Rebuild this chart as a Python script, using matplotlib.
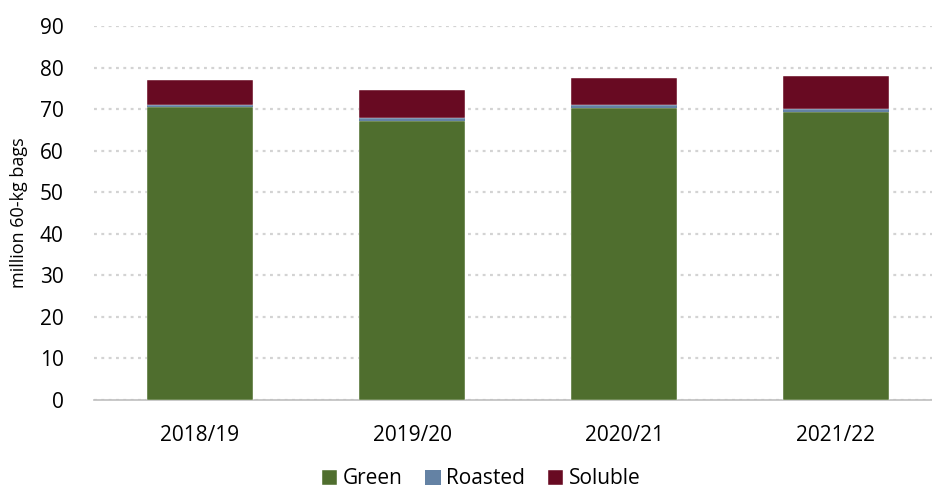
import numpy as np
import matplotlib
matplotlib.use("Agg")
import matplotlib.pyplot as plt

# dados (milhoes de sacas de 60 kg)
anos = ["2018/19", "2019/20", "2020/21", "2021/22"]
green = [70.4, 67.2, 70.3, 69.4]
roasted = [0.6, 0.6, 0.6, 0.6]
soluble = [6.1, 6.8, 6.7, 8.0]

cor_green = "#4F6E2E"
cor_roasted = "#6482A4"
cor_soluble = "#680A22"

plt.rcParams["font.family"] = ["Open Sans", "DejaVu Sans"]

fig = plt.figure(figsize=(9.32, 4.92), dpi=100)
ax = fig.add_axes([94 / 932, 92 / 492, 848 / 932, 374 / 492])

x = np.arange(len(anos))
largura = 0.5
base2 = np.array(green) + np.array(roasted)

ax.bar(x, green, largura, color=cor_green, edgecolor="white", linewidth=0.3, label="Green", zorder=3)
ax.bar(x, roasted, largura, bottom=green, color=cor_roasted, linewidth=0, label="Roasted", zorder=3)
ax.bar(x, soluble, largura, bottom=base2, color=cor_soluble, edgecolor="white", linewidth=0.3, label="Soluble", zorder=3)

ax.set_xlim(-0.5, 3.5)
ax.set_ylim(0, 90)
ax.set_yticks(range(0, 91, 10))
ax.set_xticks(x)
ax.set_xticklabels(anos)

ax.yaxis.grid(True, color="#D3D3D3", linestyle=(0, (1.3, 2.0)), linewidth=1.6, zorder=0)
ax.set_axisbelow(True)
for s in ["top", "right", "left"]:
    ax.spines[s].set_visible(False)
ax.spines["bottom"].set_color("#BFBFBF")
ax.spines["bottom"].set_linewidth(1.2)

ax.tick_params(axis="both", length=0, labelsize=15, colors="black")
ax.tick_params(axis="y", pad=22)
ax.tick_params(axis="x", pad=18)
ax.set_ylabel("million 60-kg bags", fontsize=13, labelpad=8)

ax.legend(loc="lower center", bbox_to_anchor=(481 / 932, -0.033), bbox_transform=fig.transFigure,
          ncol=3, frameon=False, fontsize=15, handlelength=0.75, handleheight=0.75,
          handletextpad=0.25, columnspacing=1.1)

fig.savefig("out.png", dpi=100)
